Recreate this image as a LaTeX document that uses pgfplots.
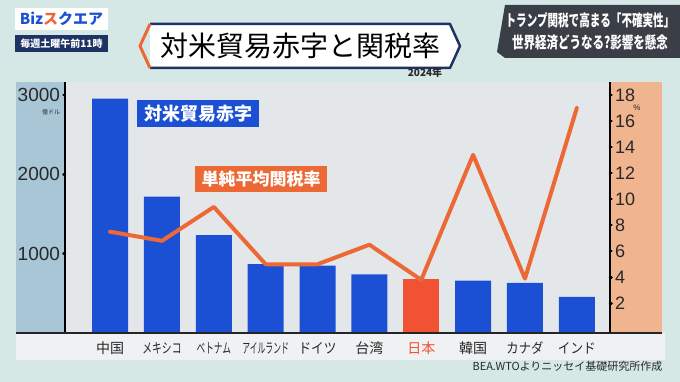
\documentclass[border=0pt]{standalone}
\usepackage{pgfplots}
\pgfplotsset{compat=1.18}
\usepackage{graphicx}
\usepackage{fontspec}
\setmainfont{Liberation Sans}
\newfontfamily\jp{Noto Sans CJK JP}
\definecolor{bg}{RGB}{214,232,230}
\definecolor{plotbg}{RGB}{228,231,234}
\definecolor{lpanel}{RGB}{168,198,213}
\definecolor{rpanel}{RGB}{240,180,142}
\definecolor{barblue}{RGB}{28,80,212}
\definecolor{jpred}{RGB}{242,82,52}
\definecolor{lineor}{RGB}{236,104,52}
\definecolor{navy}{RGB}{30,50,100}
\definecolor{band}{RGB}{240,241,242}
\definecolor{dpanel}{RGB}{58,62,70}
\definecolor{txt}{RGB}{40,40,40}
\begin{document}
\begin{tikzpicture}[x=1pt,y=1pt]
\useasboundingbox (0,0) rectangle (680,382);
\fill[bg] (0,0) rectangle (680,382);
\fill[lpanel] (16,49) rectangle (65,300);
\fill[rpanel] (610,49) rectangle (662,300);
\fill[band] (16,22) rectangle (665,49);
% bars
\begin{axis}[at={(65pt,49pt)}, anchor=south west, scale only axis,
  width=545pt, height=251pt,
  xmin=-0.87, xmax=9.64, ymin=0, ymax=3165,
  axis background/.style={fill=plotbg},
  axis y line*=left, axis x line*=bottom,
  x axis line style={draw=none},
  y axis line style={draw=black, line width=1.2pt},
  xtick={0,...,9},
  xticklabels={中国,\scalebox{0.7}[1]{メキシコ},\scalebox{0.62}[1]{ベトナム},\scalebox{0.56}[1]{アイルランド},\scalebox{0.9}[1]{ドイツ},台湾,\textcolor{jpred}{日本},韓国,\scalebox{0.88}[1]{カナダ},\scalebox{0.9}[1]{インド}},
  xticklabel style={anchor=center, yshift=-14pt, font=\jp\fontsize{14}{14}\selectfont, text=txt},
  xtick style={draw=none},
  ytick={1000,2000,3000}, yticklabels={1000,2000,3000},
  yticklabel style={font=\fontsize{19}{19}\selectfont, text=txt},
  ytick style={line width=2.5pt, black, line cap=round},
  tick align=outside, major tick length=1.5pt,
  /pgf/number format/assume math mode=true,
  clip=false]
\addplot[ybar, bar width=36pt, bar shift=0pt, fill=barblue, draw=none]
  coordinates {(0,2954)(1,1718)(2,1235)(3,867)(4,848)(5,739)(7,660)(8,633)(9,457)};
\addplot[ybar, bar width=36pt, bar shift=0pt, fill=jpred, draw=none]
  coordinates {(6,685)};
\end{axis}
% tariff line
\begin{axis}[at={(65pt,49pt)}, anchor=south west, scale only axis,
  width=545pt, height=251pt,
  xmin=-0.87, xmax=9.64, ymin=-0.28, ymax=19,
  axis y line*=right, axis x line=none,
  y axis line style={draw=black, line width=1.2pt},
  ytick={2,4,...,18},
  yticklabel style={font=\fontsize{18}{18}\selectfont, text=txt},
  ytick style={line width=2.5pt, black, line cap=round},
  tick align=outside, major tick length=1.5pt,
  /pgf/number format/assume math mode=true,
  clip=false]
\addplot[lineor, line width=4pt, line join=round, line cap=round]
  coordinates {(0,7.5)(1,6.8)(2,9.4)(3,5.0)(4,5.0)(5,6.5)(6,3.8)(7,13.4)(8,3.9)(9,17.0)};
\end{axis}
\draw[black!85, line width=1.2pt] (16,49) -- (662,49);
% unit labels
\node[font=\jp\fontsize{6}{6}\selectfont, text=txt, inner sep=0.5pt] at (51,270) {億ドル};
\node[font=\fontsize{8}{8}\selectfont, text=txt, inner sep=0.5pt] at (637,274) {\%};
% series labels
\node[fill=barblue, text=white, font=\jp\bfseries\fontsize{18}{18}\selectfont, minimum width=122pt, minimum height=27pt, inner sep=0pt] at (198,268.5) {対米貿易赤字};
\node[fill=lineor, text=white, font=\jp\bfseries\fontsize{17}{17}\selectfont, minimum width=132pt, minimum height=26pt, inner sep=0pt] at (261,203) {単純平均関税率};
% title
\draw[navy, line width=2.5pt, fill=white, line join=round] (150,358) -- (450,358) -- (460,336) -- (450,314) -- (150,314);
\draw[lineor, line width=3pt, line join=round] (150,358) -- (140,336) -- (150,314);
\node[font=\jp\fontsize{28}{28}\selectfont, text=black] at (300,336) {対米貿易赤字と関税率};
\node[font=\jp\bfseries\fontsize{10}{10}\selectfont, text=txt] at (425,309) {2024年};
% logo
\fill[white] (15,352) rectangle (108,374);
\node[font=\jp\bfseries\fontsize{15}{15}\selectfont, text=barblue] at (61.5,363) {Biz\textcolor{lineor}{ス}クエア};
\fill[navy] (15,330) rectangle (108,347);
\node[font=\jp\bfseries\fontsize{10}{10}\selectfont, text=white] at (61.5,338.5) {毎週土曜午前11時};
% top right panel
\fill[dpanel] (497,330) -- (505,377) -- (680,377) -- (680,324) -- (505,324) -- cycle;
\node[font=\jp\bfseries\fontsize{16}{16}\selectfont, text=white] at (590,362) {\scalebox{0.66}[1]{トランプ関税で高まる「不確実性」}};
\node[font=\jp\bfseries\fontsize{16}{16}\selectfont, text=white] at (590,340) {\scalebox{0.72}[1]{世界経済どうなる?影響を懸念}};
% source
\node[anchor=east, font=\jp\fontsize{11}{11}\selectfont, text=txt] at (666,16) {BEA.WTOよりニッセイ基礎研究所作成};
\end{tikzpicture}
\end{document}
